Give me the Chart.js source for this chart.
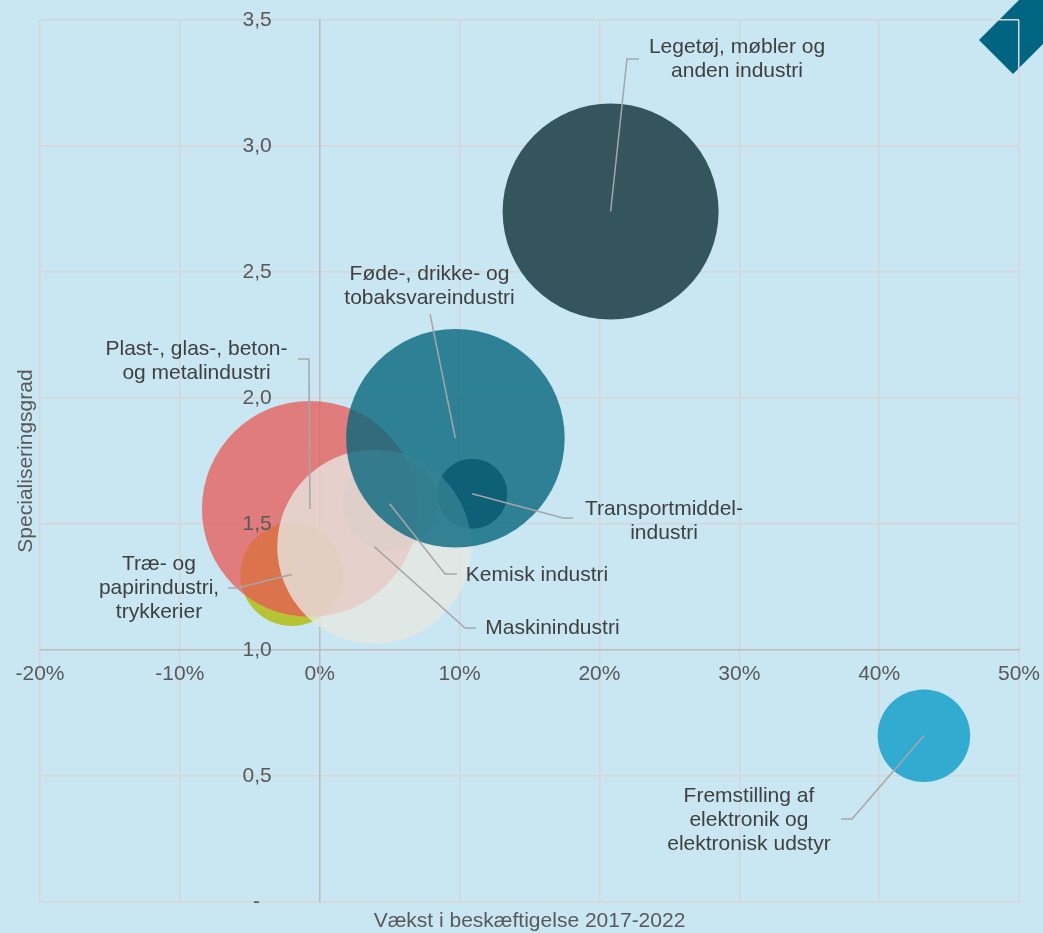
<!DOCTYPE html>
<html>
<head>
<meta charset="utf-8">
<script src="https://cdn.jsdelivr.net/npm/chart.js@4.4.1/dist/chart.umd.min.js"></script>
<style>
  html, body { margin: 0; padding: 0; background: #C9E7F2; overflow: hidden; }
  canvas { display: block; }
</style>
</head>
<body>
<canvas id="chart" width="1043" height="933"></canvas>
<script>
// ---------- DATA (drawing order: first = bottom) ----------
const categories = [
  'Træ- og papirindustri, trykkerier',
  'Plast-, glas-, beton- og metalindustri',
  'Transportmiddelindustri',
  'Kemisk industri',
  'Maskinindustri',
  'Føde-, drikke- og tobaksvareindustri',
  'Legetøj, møbler og anden industri',
  'Fremstilling af elektronik og elektronisk udstyr'
];
// Vækst i beskæftigelse 2017-2022 (share)
const growth = [-0.020, -0.007, 0.109, 0.050, 0.039, 0.097, 0.208, 0.432];
// Specialiseringsgrad
const specialisation = [1.30, 1.56, 1.62, 1.58, 1.41, 1.84, 2.74, 0.66];
// Relative bubble size (area), largest = 100
const bubbleSize = [22.2, 97.6, 10.3, 18.5, 78.8, 100, 97.6, 17.9];

const xTickValues = [-0.2, -0.1, 0, 0.1, 0.2, 0.3, 0.4, 0.5];
const xTickLabels = ['-20%', '-10%', '0%', '10%', '20%', '30%', '40%', '50%'];
const yTickValues = [0, 0.5, 1, 1.5, 2, 2.5, 3, 3.5];
const yTickLabels = ['-  ', '0,5', '1,0', '1,5', '2,0', '2,5', '3,0', '3,5'];

const xTitle = 'Vækst i beskæftigelse 2017-2022';
const yTitle = 'Specialiseringsgrad';

// Data labels (text lines), placed in data units
const labelLines = [
  ['Træ- og', 'papirindustri,', 'trykkerier'],
  ['Plast-, glas-, beton-', 'og metalindustri'],
  ['Transportmiddel-', 'industri'],
  ['Kemisk industri'],
  ['Maskinindustri'],
  ['Føde-, drikke- og', 'tobaksvareindustri'],
  ['Legetøj, møbler og', 'anden industri'],
  ['Fremstilling af', 'elektronik og', 'elektronisk udstyr']
];
const labelAt = [
  [-0.1149, 1.246], [-0.0881, 2.145], [0.2462, 1.512], [0.1554, 1.298],
  [0.1664, 1.087], [0.0785, 2.442], [0.2984, 3.343], [0.3069, 0.325]
];
const leaderPath = [
  [[-0.0591, 1.246], [-0.0656, 1.246]],
  [[-0.0077, 2.155], [-0.0155, 2.155]],
  [[0.1740, 1.524], [0.1811, 1.524]],
  [[0.0896, 1.302], [0.0981, 1.302]],
  [[0.1039, 1.087], [0.1117, 1.087]],
  [[0.0789, 2.333]],
  [[0.2197, 3.345], [0.2283, 3.345]],
  [[0.3806, 0.329], [0.3727, 0.329]]
];

// ---------- STYLE ----------
const colors = [
  'rgb(181,195,52)',
  'rgba(232,88,85,0.75)',
  'rgb(42,72,92)',
  'rgba(170,110,115,0.5)',
  'rgba(231,232,225,0.78)',
  'rgba(7,102,125,0.8)',
  'rgb(52,84,94)',
  'rgb(49,171,207)'
];
const MAX_RADIUS = 109.3;
const FONT = '"Liberation Sans", Arial, Helvetica, sans-serif';
const BG = '#C9E7F2';

Chart.defaults.font.family = FONT;
Chart.defaults.font.size = 21;
Chart.defaults.color = '#595959';

const points = categories.map((c, i) => ({
  x: growth[i],
  y: specialisation[i],
  r: MAX_RADIUS * Math.sqrt(bubbleSize[i] / 100)
}));

const decorPlugin = {
  id: 'decor',
  beforeDraw(chart) {
    const { ctx, width: w, height: h } = chart;
    ctx.save();
    ctx.fillStyle = BG;
    ctx.fillRect(0, 0, w, h);
    ctx.fillStyle = '#006580';
    ctx.beginPath();
    ctx.moveTo(w - 24, 0);
    ctx.lineTo(w - 64, 40);
    ctx.lineTo(w - 30, 74);
    ctx.lineTo(w, 44);
    ctx.lineTo(w, 0);
    ctx.closePath();
    ctx.fill();
    ctx.restore();
  },
  afterDraw(chart) {
    const { ctx, chartArea: ca } = chart;
    ctx.save();
    ctx.fillStyle = '#595959';
    ctx.font = '21px ' + FONT;
    ctx.textAlign = 'center';
    ctx.textBaseline = 'alphabetic';
    ctx.fillText(xTitle, (ca.left + ca.right) / 2, 927);
    ctx.translate(32, (ca.top + ca.bottom) / 2);
    ctx.rotate(-Math.PI / 2);
    ctx.fillText(yTitle, 0, 0);
    ctx.restore();
  }
};

const labelPlugin = {
  id: 'bubbleLabels',
  afterDatasetsDraw(chart) {
    const { ctx } = chart;
    const x = chart.scales.x, y = chart.scales.y;
    ctx.save();
    ctx.strokeStyle = '#A6A6A6';
    ctx.lineWidth = 1.5;
    categories.forEach((c, i) => {
      ctx.beginPath();
      ctx.moveTo(x.getPixelForValue(growth[i]), y.getPixelForValue(specialisation[i]));
      leaderPath[i].forEach(([a, b]) => ctx.lineTo(x.getPixelForValue(a), y.getPixelForValue(b)));
      ctx.stroke();
    });
    ctx.fillStyle = '#404040';
    ctx.font = '21px ' + FONT;
    ctx.textAlign = 'center';
    ctx.textBaseline = 'middle';
    const lh = 24;
    labelLines.forEach((lines, i) => {
      const cx = x.getPixelForValue(labelAt[i][0]);
      const cy = y.getPixelForValue(labelAt[i][1]);
      lines.forEach((t, k) => ctx.fillText(t, cx, cy + (k - (lines.length - 1) / 2) * lh));
    });
    ctx.restore();
  }
};

new Chart(document.getElementById('chart'), {
  type: 'bubble',
  data: {
    datasets: [{
      label: 'Brancher',
      data: points,
      backgroundColor: colors,
      hoverBackgroundColor: colors,
      borderWidth: 0,
      hoverBorderWidth: 0,
      xAxisID: 'x',
      yAxisID: 'y'
    }]
  },
  options: {
    responsive: false,
    animation: false,
    devicePixelRatio: 1,
    events: [],
    layout: { autoPadding: false, padding: { left: 40, right: 24, top: 20, bottom: 31 } },
    plugins: { legend: { display: false }, tooltip: { enabled: false } },
    scales: {
      x: {
        type: 'linear',
        min: -0.2, max: 0.5,
        position: { y: 1 },
        afterBuildTicks: s => { s.ticks = xTickValues.map(v => ({ value: v })); },
        ticks: {
          padding: 0, color: '#595959', maxRotation: 0, autoSkip: false,
          callback: (v, i) => xTickLabels[i]
        },
        grid: { color: '#D6D6D6', lineWidth: 1.5, drawTicks: true, tickLength: 12, tickColor: 'rgba(0,0,0,0)' },
        border: { color: '#BDBDBD', width: 1.5 }
      },
      y: {
        type: 'linear',
        min: 0, max: 3.5,
        position: { x: 0 },
        afterBuildTicks: s => { s.ticks = yTickValues.map(v => ({ value: v })); },
        ticks: { display: false },
        grid: { color: '#D6D6D6', lineWidth: 1.5, drawTicks: false },
        border: { color: '#BDBDBD', width: 1.5 }
      },
      yLabels: {
        axis: 'y',
        type: 'linear',
        min: 0, max: 3.5,
        position: { x: -0.0343 },
        afterBuildTicks: s => { s.ticks = yTickValues.map(v => ({ value: v })); },
        ticks: { padding: 0, z: 1, color: '#595959', autoSkip: false, callback: (v, i) => yTickLabels[i] },
        grid: { display: false, drawTicks: false },
        border: { display: false }
      }
    }
  },
  plugins: [decorPlugin, labelPlugin]
});
</script>
</body>
</html>
